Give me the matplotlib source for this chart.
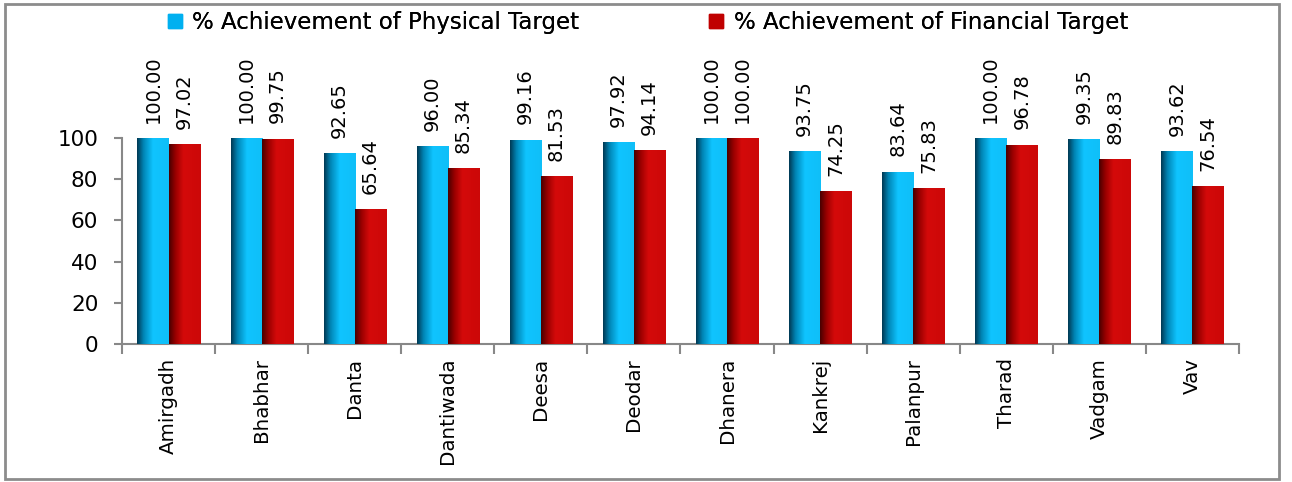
import numpy as np
import matplotlib
matplotlib.use("Agg")
import matplotlib.pyplot as plt
from matplotlib.colors import LinearSegmentedColormap
from matplotlib.patches import Patch, Rectangle

# -------------------------
# Data
# -------------------------
blocks = ["Amirgadh", "Bhabhar", "Danta", "Dantiwada", "Deesa", "Deodar",
          "Dhanera", "Kankrej", "Palanpur", "Tharad", "Vadgam", "Vav"]
physical = [100.00, 100.00, 92.65, 96.00, 99.16, 97.92,
            100.00, 93.75, 83.64, 100.00, 99.35, 93.62]
financial = [97.02, 99.75, 65.64, 85.34, 81.53, 94.14,
             100.00, 74.25, 75.83, 96.78, 89.83, 76.54]
series_names = ["% Achievement of Physical Target",
                "% Achievement of Financial Target"]
series_colors = ["#00b0f0", "#c00000"]

plt.rcParams["font.family"] = ["DejaVu Sans"]

fig = plt.figure(figsize=(12.92, 4.82), dpi=100)
ax = fig.add_axes([0.0944, 0.2863, 0.8646, 0.4274])

# cylinder-like shading for the bars
blue_cmap = LinearSegmentedColormap.from_list(
    "blue", [(0.0, "#003a55"), (0.2, "#0085b5"), (0.5, "#0fc4ff"), (1.0, "#10bff8")])
red_cmap = LinearSegmentedColormap.from_list(
    "red", [(0.0, "#4a0000"), (0.2, "#9a0000"), (0.45, "#d40a0a"), (1.0, "#cc0808")])
grad = np.linspace(0, 1, 64).reshape(1, -1)

x = np.arange(len(blocks))
w = 1 / 3
bars_p = ax.bar(x - w / 2, physical, w, color=series_colors[0], zorder=2)
bars_f = ax.bar(x + w / 2, financial, w, color=series_colors[1], zorder=2)

for bars, cmap in [(bars_p, blue_cmap), (bars_f, red_cmap)]:
    for b in bars:
        x0, y0 = b.get_x(), b.get_y()
        im = ax.imshow(grad, cmap=cmap, aspect="auto", zorder=3,
                       extent=[x0, x0 + b.get_width(), y0, y0 + b.get_height()])
        im.set_clip_path(b)

for bars, vals in [(bars_p, physical), (bars_f, financial)]:
    for b, v in zip(bars, vals):
        ax.annotate(f"{v:.2f}", (b.get_x() + b.get_width() / 2, v),
                    xytext=(0, 11), textcoords="offset points",
                    rotation=90, ha="center", va="bottom", fontsize=14,
                    annotation_clip=False)

ax.set_xlim(-0.5, len(blocks) - 0.5)
ax.set_ylim(0, 100)
ax.set_yticks([0, 20, 40, 60, 80, 100])
ax.tick_params(axis="y", length=6, width=1.5, color="#888888", labelsize=15.5, pad=11)

ax.set_xticks(x)
ax.set_xticklabels(blocks, rotation=90, fontsize=14.3)
ax.tick_params(axis="x", which="major", length=0, pad=10)
ax.set_xticks(np.arange(-0.5, len(blocks)), minor=True)
ax.tick_params(axis="x", which="minor", length=7, width=1.5, color="#888888")

for s in ["top", "right"]:
    ax.spines[s].set_visible(False)
for s in ["left", "bottom"]:
    ax.spines[s].set_color("#888888")
    ax.spines[s].set_linewidth(1.5)

# legend entries, one per series, laid out across the top
for name, col, xc in zip(series_names, series_colors, [0.289, 0.711]):
    leg = fig.legend([Patch(color=col)], [name], loc="center", bbox_to_anchor=(xc, 0.953),
                     frameon=False, fontsize=16.5, handlelength=0.6, handleheight=0.6,
                     handletextpad=0.45, borderpad=0)
    fig.add_artist(leg)

# outer chart border
fig.patches.append(Rectangle((0.004, 0.006), 0.986, 0.985, transform=fig.transFigure,
                             fill=False, edgecolor="#8c8c8c", linewidth=2))

plt.savefig("out.png", dpi=100)
